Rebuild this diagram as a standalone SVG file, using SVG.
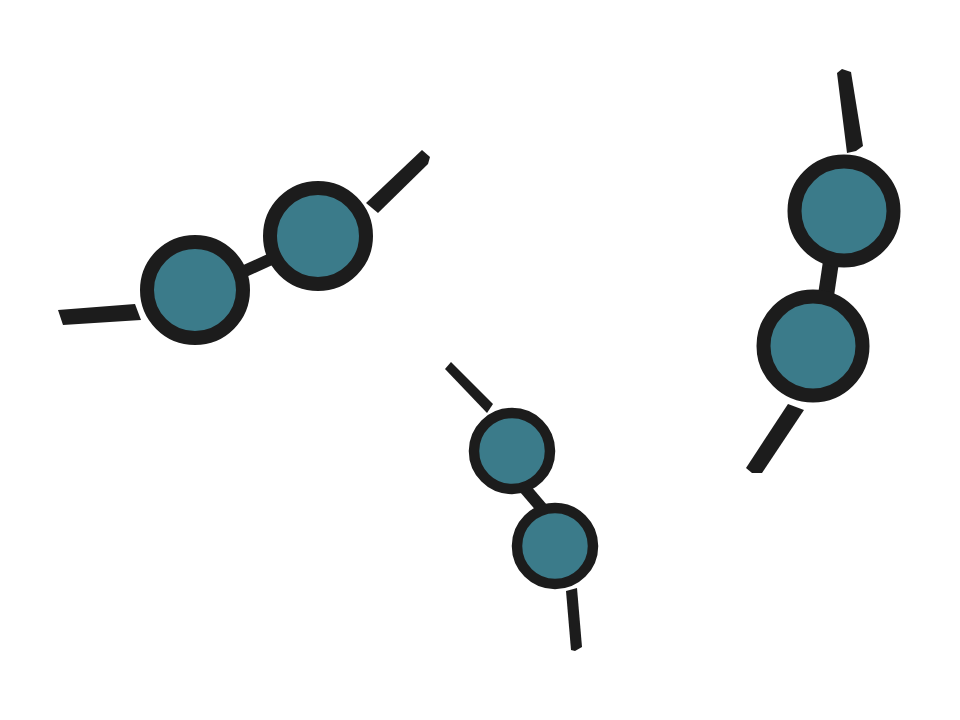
<svg xmlns="http://www.w3.org/2000/svg" width="960" height="720" viewBox="0 0 960 720">
<style>
.lens{fill:#3b7b8a;stroke:#1c1c1c}
.arm{fill:#1c1c1c}
</style>
<rect width="960" height="720" fill="#ffffff"/>
<g id="glasses-left">
<polygon class="arm" points="58,310 135,304 141,320 63,325"/>
<polygon class="arm" points="366,203 422,150 430,157 428,164 378,213"/>
<line x1="236" y1="275" x2="282" y2="254" stroke="#1c1c1c" stroke-width="12"/>
<circle class="lens" cx="195" cy="290" r="48" stroke-width="14"/>
<circle class="lens" cx="318" cy="236" r="48" stroke-width="14"/>
</g>
<g id="glasses-right">
<polygon class="arm" points="837,73 842,69 851,72 863,146 856,151 847,153"/>
<polygon class="arm" points="788,404 804,410 762,473 752,473 746,468"/>
<line x1="832" y1="255" x2="825" y2="302" stroke="#1c1c1c" stroke-width="16"/>
<circle class="lens" cx="844" cy="211" r="49.5" stroke-width="14"/>
<circle class="lens" cx="813" cy="346" r="49.5" stroke-width="14"/>
</g>
<g id="glasses-middle">
<polygon class="arm" points="445,369 451,362 493,404 487,413"/>
<polygon class="arm" points="566,591 577,588 582,647 575,651 571,650"/>
<line x1="522" y1="485" x2="545" y2="512" stroke="#1c1c1c" stroke-width="12"/>
<circle class="lens" cx="512" cy="451" r="38" stroke-width="10.5"/>
<circle class="lens" cx="555" cy="546" r="38" stroke-width="10.5"/>
</g>
</svg>
